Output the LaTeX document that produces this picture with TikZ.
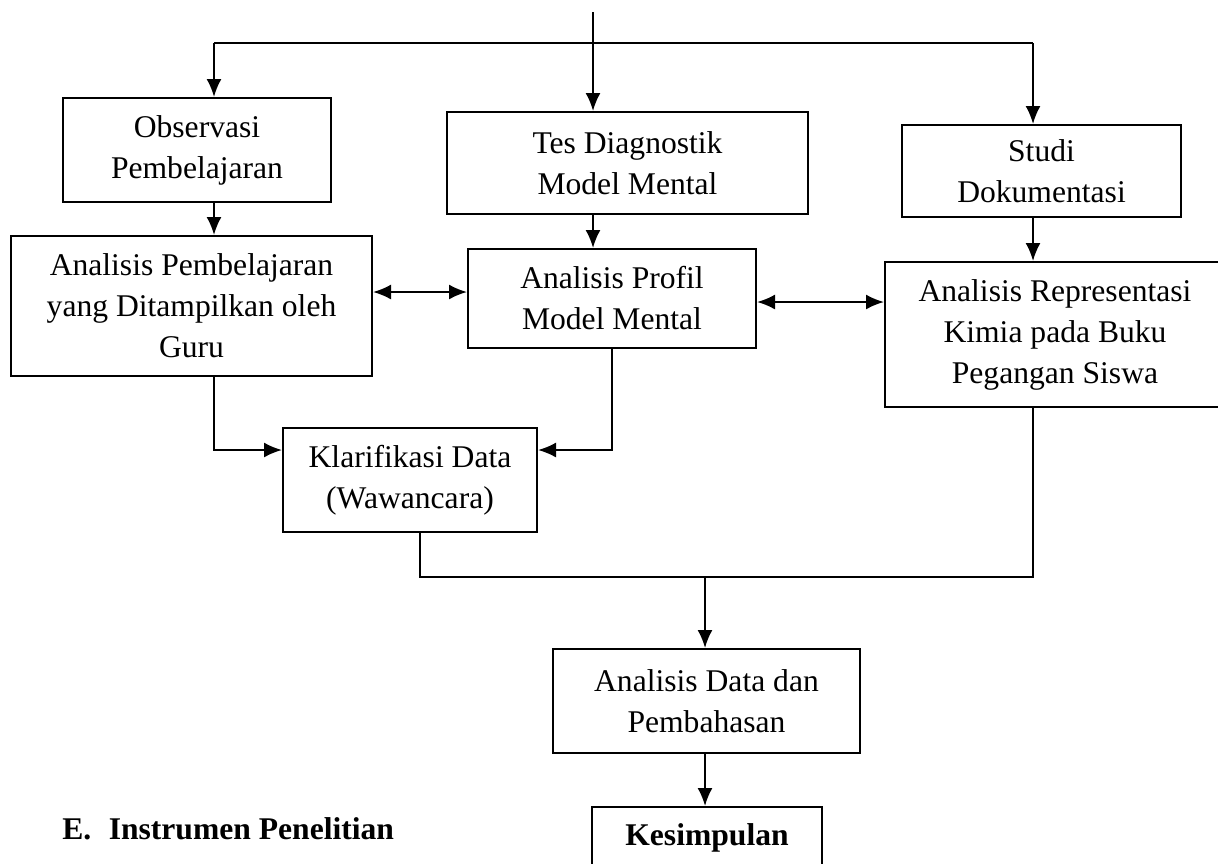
\documentclass[tikz,border=0pt]{standalone}
\usepackage{fontspec}
\setmainfont{Liberation Serif}
\usetikzlibrary{arrows.meta}
\tikzset{
	box/.style={draw, line width=1pt, align=center, inner sep=0pt,
		font=\fontsize{15.8pt}{20.5pt}\selectfont},
	arr/.style={line width=1pt, -{Latex[length=9pt,width=7.5pt]}},
	biarr/.style={line width=1pt, {Latex[length=9pt,width=7.5pt]}-{Latex[length=9pt,width=7.5pt]}},
	line/.style={line width=1pt}
}
\begin{document}
\begin{tikzpicture}[x=0.5pt, y=-0.5pt]
\useasboundingbox (0,0) rectangle (1218,863);

% boxes
\node[box, minimum width=134pt, minimum height=52pt] (obs) at (197,150) {Observasi\\Pembelajaran};
\node[box, minimum width=180.5pt, minimum height=51pt] (tes) at (627.5,163) {Tes Diagnostik\\Model Mental};
\node[box, minimum width=139.5pt, minimum height=46pt] (studi) at (1041.5,171) {Studi\\Dokumentasi};
\node[box, minimum width=180.5pt, minimum height=70pt] (anpemb) at (191.5,306) {Analisis Pembelajaran\\yang Ditampilkan oleh\\Guru};
\node[box, minimum width=144pt, minimum height=49.5pt] (prof) at (612,298.5) {Analisis Profil\\Model Mental};
\node[box, minimum width=170pt, minimum height=72.5pt] (rep) at (1055,334.5) {Analisis Representasi\\Kimia pada Buku\\Pegangan Siswa};
\node[box, minimum width=127pt, minimum height=52pt] (klar) at (410,480) {Klarifikasi Data\\(Wawancara)};
\node[box, minimum width=153.5pt, minimum height=52pt] (andata) at (706.5,701) {Analisis Data dan\\Pembahasan};
\node[box, minimum width=115pt, minimum height=31pt] (kes) at (707,838) {\bfseries Kesimpulan};
\node[anchor=west, inner sep=0pt, font=\fontsize{15.8pt}{20.5pt}\selectfont\bfseries] (instr) at (62,829) {E.\hspace{0.55em}Instrumen Penelitian};

% helper points
\coordinate (top) at (593,12);
\coordinate (c1) at (214,43);
\coordinate (c2) at (593,43);
\coordinate (c3) at (1033,43);
\coordinate (r1) at (0,292);
\coordinate (r2) at (0,302);
\coordinate (r3) at (0,450);
\coordinate (k) at (420,577);
\coordinate (c5) at (705,577);

% connectors
\draw[arr] (top) -- (top |- tes.north);
\draw[line] (c1) -- (c3);
\draw[arr] (c1) -- (c1 |- obs.north);
\draw[arr] (c3) -- (c3 |- studi.north);
\draw[arr] (c1 |- obs.south) -- (c1 |- anpemb.north);
\draw[arr] (c2 |- tes.south) -- (c2 |- prof.north);
\draw[arr] (c3 |- studi.south) -- (c3 |- rep.north);
\draw[biarr] (anpemb.east |- r1) -- (prof.west |- r1);
\draw[biarr] (prof.east |- r2) -- (rep.west |- r2);
\draw[arr] (c1 |- anpemb.south) |- (klar.west |- r3);
\draw[arr] (prof.south) |- (klar.east |- r3);
\draw[line] (klar.south -| k) -- (k) -- (k -| c3) -- (c3 |- rep.south);
\draw[arr] (c5) -- (c5 |- andata.north);
\draw[arr] (c5 |- andata.south) -- (c5 |- kes.north);
\end{tikzpicture}
\end{document}
